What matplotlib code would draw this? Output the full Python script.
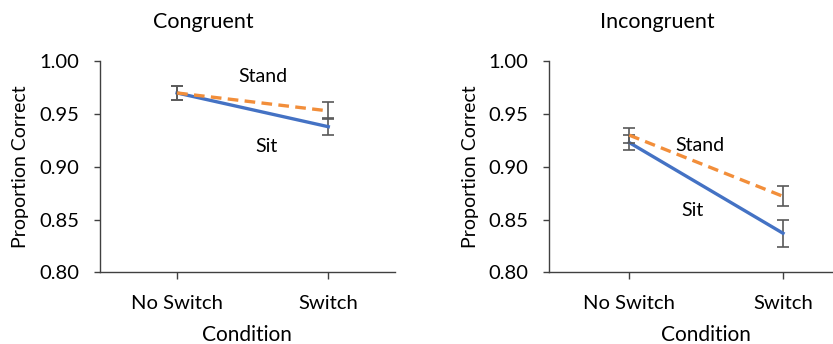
import matplotlib
matplotlib.use("Agg")
import matplotlib.pyplot as plt

plt.rcParams['font.family'] = ['Lato', 'DejaVu Sans']

conditions = ["No Switch", "Switch"]
panels = ["Congruent", "Incongruent"]

# proportion correct
sit_mean = {"Congruent": [0.970, 0.938], "Incongruent": [0.923, 0.837]}
sit_err = {"Congruent": [0.0065, 0.008], "Incongruent": [0.007, 0.013]}
stand_mean = {"Congruent": [0.970, 0.953], "Incongruent": [0.930, 0.872]}
stand_err = {"Congruent": [0.0065, 0.008], "Incongruent": [0.007, 0.0095]}

# label positions (data coords) for the series names
label_pos = {
    "Congruent": {"Stand": (0.57, 0.986), "Sit": (0.59, 0.919)},
    "Incongruent": {"Stand": (0.46, 0.920), "Sit": (0.41, 0.859)},
}

blue = "#4472C4"
orange = "#F28E3A"
grey = "#595959"

fig = plt.figure(figsize=(8.33, 3.44), dpi=100)
axes_rects = {
    "Congruent": [0.120, 0.2084, 0.354, 0.6134],
    "Incongruent": [0.6594, 0.2084, 0.3766, 0.6134],
}
xlims = {"Congruent": (-0.51, 1.44), "Incongruent": (-0.52, 1.52)}
title_x = {"Congruent": 203 / 833, "Incongruent": 657 / 833}

for name in panels:
    ax = fig.add_axes(axes_rects[name])
    x = list(range(len(conditions)))
    ax.errorbar(x, sit_mean[name], yerr=sit_err[name], color=blue, lw=2.4,
                ecolor=grey, elinewidth=1.2, capsize=4, capthick=1.2, zorder=2)
    ln, _, _ = ax.errorbar(x, stand_mean[name], yerr=stand_err[name], color=orange, lw=2.4,
                           ecolor=grey, elinewidth=1.2, capsize=4, capthick=1.2, zorder=3)
    ln.set_dashes([3.2, 1.9])
    ln.set_dash_capstyle('butt')

    for lab, (tx, ty) in label_pos[name].items():
        ax.text(tx, ty, lab, fontsize=14, ha='center', va='center')

    ax.set_xlim(*xlims[name])
    ax.set_ylim(0.80, 1.00)
    ax.set_yticks([0.80, 0.85, 0.90, 0.95, 1.00])
    ax.set_yticklabels(["%.2f" % v for v in [0.80, 0.85, 0.90, 0.95, 1.00]])
    ax.set_xticks(x)
    ax.set_xticklabels(conditions)
    ax.tick_params(axis='y', labelsize=14.5, length=4, width=1, pad=11, color='#404040')
    ax.tick_params(axis='x', labelsize=14.6, length=5, width=1, pad=11, color='#404040')
    ax.spines['top'].set_visible(False)
    ax.spines['right'].set_visible(False)
    for s in ['left', 'bottom']:
        ax.spines[s].set_color('#404040')
        ax.spines[s].set_linewidth(1)
    ax.set_ylabel("Proportion Correct", fontsize=14, labelpad=7)
    ax.set_xlabel("Condition", fontsize=15, labelpad=10)

    fig.text(title_x[name], 1 - 22 / 344, name, fontsize=15.5, ha='center', va='center')

fig.savefig("out.png", dpi=100)
